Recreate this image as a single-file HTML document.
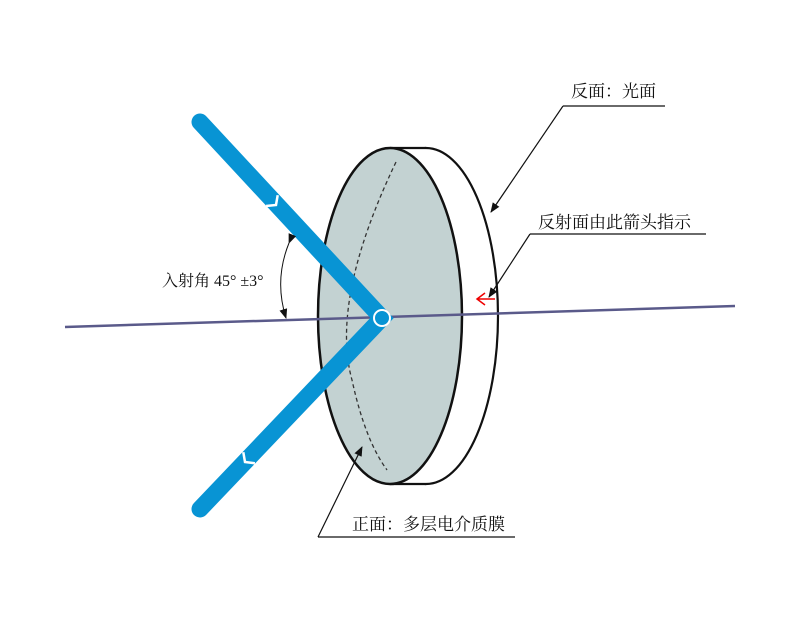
<!DOCTYPE html>
<html><head><meta charset="utf-8"><style>
body{margin:0;background:#fff;}
svg{display:block;}
text{font-family:"Liberation Serif","Noto Serif CJK SC",serif;font-size:17px;fill:#111;}
</style></head><body>
<svg width="800" height="623" viewBox="0 0 800 623">
<defs>
<marker id="ah" markerWidth="10" markerHeight="8" refX="9" refY="4" orient="auto" markerUnits="userSpaceOnUse"><path d="M0,0 L10,4 L0,8 Z" fill="#111"/></marker>
</defs>
<ellipse cx="426" cy="316" rx="72" ry="168" fill="#fff" stroke="#111" stroke-width="2.2"/>
<rect x="390" y="149" width="36" height="334" fill="#fff"/>
<line x1="390" y1="148" x2="426" y2="148" stroke="#111" stroke-width="2.2"/>
<line x1="390" y1="484" x2="426" y2="484" stroke="#111" stroke-width="2.2"/>
<ellipse cx="390" cy="316" rx="72" ry="168" fill="#c3d2d2" stroke="#111" stroke-width="2.5"/>
<path d="M396,162 Q330,300 352,380 Q365,440 387,470" fill="none" stroke="#333" stroke-width="1.3" stroke-dasharray="4,3"/>
<line x1="65" y1="327" x2="735" y2="306" stroke="#5a5a8a" stroke-width="2.5"/>
<path d="M200,122 L382,318 L200,509" stroke="#0894d4" stroke-width="17" stroke-linecap="round" stroke-linejoin="miter" fill="none"/>
<path d="M277.7,195.2 L276,205 L266.1,206" fill="none" stroke="#fff" stroke-width="2.5"/>
<path d="M254.9,463.2 L245,462 L243.3,452.2" fill="none" stroke="#fff" stroke-width="2.5"/>
<circle cx="382" cy="318" r="8" fill="#0894d4" stroke="#fff" stroke-width="2"/>
<path d="M289,243 Q274,280 286,318" fill="none" stroke="#111" stroke-width="1" marker-start="url(#ah)" marker-end="url(#ah)"/>
<text x="162" y="286" style="font-size:16px">入射角 45° ±3°</text>
<path d="M495,299 L477,299 M485,293 L477,299 L485,305" stroke="#e00" stroke-width="1.5" fill="none"/>
<text x="571" y="97">反面：光面</text>
<line x1="563" y1="106" x2="665" y2="106" stroke="#111" stroke-width="1.2"/>
<line x1="563" y1="106" x2="491" y2="212" stroke="#111" stroke-width="1.2" marker-end="url(#ah)"/>
<text x="538" y="228">反射面由此箭头指示</text>
<line x1="530" y1="234" x2="706" y2="234" stroke="#111" stroke-width="1.2"/>
<line x1="530" y1="234" x2="489" y2="297" stroke="#111" stroke-width="1.2" marker-end="url(#ah)"/>
<text x="352" y="530">正面：多层电介质膜</text>
<line x1="318" y1="537" x2="515" y2="537" stroke="#111" stroke-width="1.2"/>
<line x1="318" y1="537" x2="362" y2="447" stroke="#111" stroke-width="1.2" marker-end="url(#ah)"/>
</svg>
</body></html>
